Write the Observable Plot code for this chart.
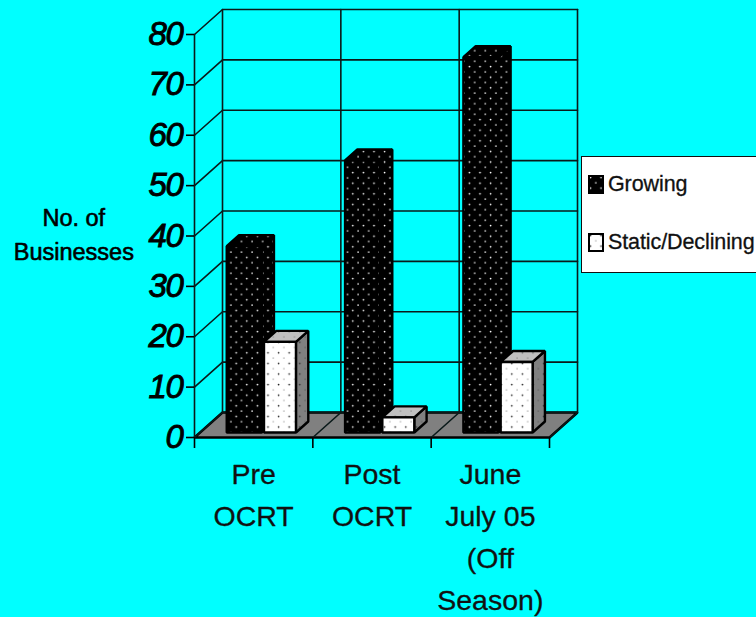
<!DOCTYPE html>
<html><head><meta charset="utf-8">
<script src="https://cdn.jsdelivr.net/npm/d3@7"></script>
<script src="https://cdn.jsdelivr.net/npm/@observablehq/plot@0.6"></script>
<style>
html,body{margin:0;padding:0;background:#00ffff;width:756px;height:617px;overflow:hidden}
#wrap{position:relative;width:756px;height:617px}
#legend{position:absolute;left:581px;top:156px;width:180px;height:117px;background:#fff;border:1.5px solid #111;box-sizing:border-box;
 font-family:"Liberation Sans",Arial,sans-serif;font-size:21.5px;letter-spacing:-.1px;color:#111}
#legend div{position:absolute;left:26px;white-space:nowrap;line-height:24px;-webkit-text-stroke:.3px #111}
#legend svg{position:absolute;left:6px}
g[aria-label="y-axis tick label"]{letter-spacing:-1.4px;stroke:#000;stroke-width:.9px;font-weight:normal}
</style></head><body><div id="wrap"></div>
<script>
const categories = ["Pre\nOCRT", "Post\nOCRT", "June\nJuly 05\n(Off\nSeason)"];
const growing = [37, 54, 74.5];
const staticDeclining = [18, 3, 14];
const yTicks = [0, 10, 20, 30, 40, 50, 60, 70, 80];
const seriesNames = ["Growing", "Static/Declining"];

// depth of the oblique floor, in data units per unit of z
const depthX = 0.2367, depthY = 4.96;
const P = (x, y, z) => ({x: x + z * depthX, y: y + z * depthY});
const Z0 = 0.2, Z1 = 0.64;
const poly = (id, pts) => pts.map(([x, y, z]) => ({id, ...P(x, y, z)}));
const frontOf = (id, a, b, v) => poly(id, [[a,0,Z0],[b,0,Z0],[b,v,Z0],[a,v,Z0]]);
const sideOf = (id, b, v) => poly(id, [[b,0,Z0],[b,0,Z1],[b,v,Z1],[b,v,Z0]]);
const topOf = (id, a, b, v) => poly(id, [[a,v,Z0],[b,v,Z0],[b,v,Z1],[a,v,Z1]]);

const G = [0.225, 0.52], S = [0.54, 0.81];
const gFront = [], gSide = [], gTop = [], sFront = [], sSide = [], sTop = [];
categories.forEach((c, i) => {
  gFront.push(...frontOf("g"+i, i+G[0], i+G[1], growing[i]));
  gSide.push(...sideOf("g"+i, i+G[1], growing[i]));
  gTop.push(...topOf("g"+i, i+G[0], i+G[1], growing[i]));
  sFront.push(...frontOf("s"+i, i+S[0], i+S[1], staticDeclining[i]));
  sSide.push(...sideOf("s"+i, i+S[1], staticDeclining[i]));
  sTop.push(...topOf("s"+i, i+S[0], i+S[1], staticDeclining[i]));
});
const floor = poly("floor", [[0,0,0],[3,0,0],[3,0,1],[0,0,1]]);
const grid = [];
yTicks.forEach(v => {
  grid.push(...poly("h"+v, [[0,v,0],[0,v,1],[3,v,1]]));
});
[0,1,2,3].forEach(k => grid.push(...poly("v"+k, [[k,0,1],[k,80,1]])));
grid.push(...poly("axis", [[0,0,0],[0,80,0]]));
[1,2,3].forEach(k => grid.push(...poly("d"+k, [[k,0,0],[k,0,1]])));

const polyMark = (data, fill) => Plot.line(data, {x:"x", y:"y", z:"id", fill, stroke:"#000", strokeWidth:2.4, curve:"linear-closed", strokeLinejoin:"miter"});
const dots = (id, bg, a, b) => `<pattern id="${id}" width="10.6" height="10.6" patternUnits="userSpaceOnUse">
 <rect width="10.6" height="10.6" fill="${bg}"/><circle cx="2.5" cy="2.5" r=".85" fill="${a}"/><circle cx="7.8" cy="7.8" r=".85" fill="${b}"/></pattern>`;
const defs = () => {
  const g = document.createElementNS("http://www.w3.org/2000/svg","g");
  g.innerHTML = "<defs>" + dots("pBlack","#000","#fff","#ddd") + dots("pWhite","#fff","#222","#bbb")
    + dots("pGray","#808080","#333","#666") + dots("pLight","#c0c0c0","#666","#999") + "</defs>";
  return g;
};

const chart = Plot.plot({
  width:756, height:617, marginLeft:194, marginRight:207, marginTop:34, marginBottom:180,
  style:{background:"#00ffff", color:"#000", fontFamily:'"Liberation Sans",Arial,sans-serif', overflow:"visible"},
  x:{domain:[0,3]}, y:{domain:[0,80]},
  marks:[
    defs,
    polyMark(floor, "#808080"),
    Plot.line(grid, {x:"x", y:"y", z:"id", stroke:"#0a1a1a", strokeWidth:1.6}),
    polyMark(gSide, "url(#pBlack)"),
    polyMark(gTop, "url(#pBlack)"),
    polyMark(gFront, "url(#pBlack)"),
    polyMark(sSide, "url(#pGray)"),
    polyMark(sTop, "url(#pLight)"),
    polyMark(sFront, "url(#pWhite)"),
    Plot.axisY({ticks:yTicks, tickSize:8, tickPadding:4, fontSize:33, fontStyle:"italic", label:null, stroke:"#000", strokeWidth:1.6}),
    Plot.axisX({ticks:[0,1,2,3], tickFormat:() => "", tickSize:11, label:null, stroke:"#000", strokeWidth:1.6}),
    Plot.text(categories, {x:(d,i)=>i+0.5, y:()=>0, text:d=>d, lineAnchor:"top", dy:17, fontSize:28.5, lineHeight:1.475, fill:"#111", stroke:"#111", strokeWidth:.3}),
    Plot.text(["No. of\nBusinesses"], {x:()=>-1.02, y:()=>40.7, text:d=>d, fontSize:23.5, lineHeight:1.44, fill:"#000", stroke:"#000", strokeWidth:.6})
  ]
});
const wrap = document.getElementById("wrap");
wrap.appendChild(chart);
const lg = document.createElement("div");
lg.id = "legend";
const swatch = (top, fill) => `<svg style="top:${top}px" width="16" height="19"><rect x="1" y="1" width="14" height="17" fill="${fill}" stroke="#000" stroke-width="2"/></svg>`;
lg.innerHTML = swatch(18,"url(#pBlack)") + `<div style="top:15px">${seriesNames[0]}</div>`
  + swatch(76,"url(#pWhite)") + `<div style="top:73px">${seriesNames[1]}</div>`;
wrap.appendChild(lg);
</script></body></html>
